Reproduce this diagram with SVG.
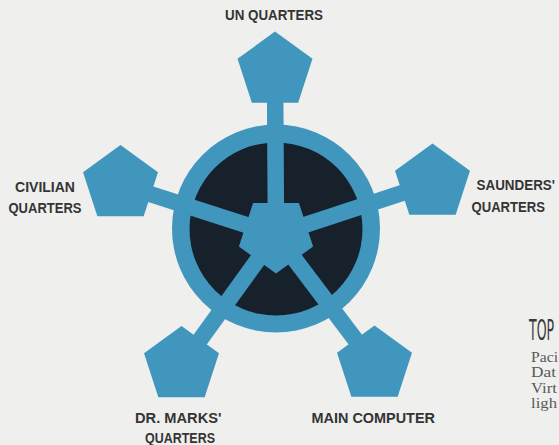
<svg xmlns="http://www.w3.org/2000/svg" xmlns:xlink="http://www.w3.org/1999/xlink" width="559" height="445" viewBox="0 0 559 445">
  <style>
    .blue { fill: #4196bd; }
    .dark { fill: #16212b; }
    .spoke { stroke: #4196bd; stroke-width: 16.5; stroke-linecap: butt; }
    .lbl { font-family: "Liberation Sans", Arial, sans-serif; font-weight: bold; font-size: 14px; fill: #343434; }
    .head { font-family: "DejaVu Sans Condensed", "DejaVu Sans", sans-serif; font-size: 27.5px; fill: #3a3a3a; }
    .body { font-family: "Liberation Serif", "Times New Roman", serif; font-size: 14.5px; fill: #5a5a5a; }
  </style>
  <defs>
    <polygon id="pent" points="0,-39.4 37.47,-12.17 23.16,31.87 -23.16,31.87 -37.47,-12.17"/>
  </defs>
  <rect width="559" height="445" fill="#efefed"/>

  <g id="ring">
    <circle class="blue" cx="276" cy="228.5" r="104"/>
    <circle class="dark" cx="276" cy="229" r="86.5"/>
  </g>

  <g id="connectors">
    <line class="spoke" x1="276" y1="234.5" x2="275" y2="71"/>
    <line class="spoke" x1="276" y1="234.5" x2="120.5" y2="184.5"/>
    <line class="spoke" x1="276" y1="234.5" x2="432.5" y2="183"/>
    <line class="spoke" x1="276" y1="234.5" x2="181.5" y2="365.5"/>
    <line class="spoke" x1="276" y1="234.5" x2="374.5" y2="365"/>
  </g>

  <g id="hub">
    <polygon class="blue" points="276,273.5 238.91,246.55 253.08,202.95 298.92,202.95 313.09,246.55"/>
  </g>

  <g id="un-quarters">
    <use xlink:href="#pent" href="#pent" class="blue" x="275" y="71"/>
    <text class="lbl" x="225" y="20" textLength="98" lengthAdjust="spacingAndGlyphs">UN QUARTERS</text>
  </g>

  <g id="civilian-quarters">
    <use xlink:href="#pent" href="#pent" class="blue" x="120.5" y="184.5"/>
    <text class="lbl" x="15" y="191.5" textLength="60" lengthAdjust="spacingAndGlyphs">CIVILIAN</text>
    <text class="lbl" x="8.5" y="212.5" textLength="73" lengthAdjust="spacingAndGlyphs">QUARTERS</text>
  </g>

  <g id="saunders-quarters">
    <use xlink:href="#pent" href="#pent" class="blue" x="432.5" y="183"/>
    <text class="lbl" x="476.5" y="190" textLength="78.5" lengthAdjust="spacingAndGlyphs">SAUNDERS'</text>
    <text class="lbl" x="471.5" y="211.5" textLength="73.5" lengthAdjust="spacingAndGlyphs">QUARTERS</text>
  </g>

  <g id="dr-marks-quarters">
    <use xlink:href="#pent" href="#pent" class="blue" x="181.5" y="365.5"/>
    <text class="lbl" x="135" y="423" textLength="86.5" lengthAdjust="spacingAndGlyphs">DR. MARKS'</text>
    <text class="lbl" x="145" y="443" textLength="70" lengthAdjust="spacingAndGlyphs">QUARTERS</text>
  </g>

  <g id="main-computer">
    <use xlink:href="#pent" href="#pent" class="blue" x="374.5" y="365"/>
    <text class="lbl" x="311.5" y="423" textLength="123.5" lengthAdjust="spacingAndGlyphs">MAIN COMPUTER</text>
  </g>

  <g id="side-text">
    <text class="head" x="529" y="340" textLength="25" lengthAdjust="spacingAndGlyphs">TOP</text>
    <text class="body" x="531" y="361.5" textLength="27" lengthAdjust="spacingAndGlyphs">Paci</text>
    <text class="body" x="531" y="377" textLength="25" lengthAdjust="spacingAndGlyphs">Dat</text>
    <text class="body" x="531" y="392.5" textLength="26" lengthAdjust="spacingAndGlyphs">Virt</text>
    <text class="body" x="531" y="408" textLength="26" lengthAdjust="spacingAndGlyphs">ligh</text>
  </g>
</svg>
